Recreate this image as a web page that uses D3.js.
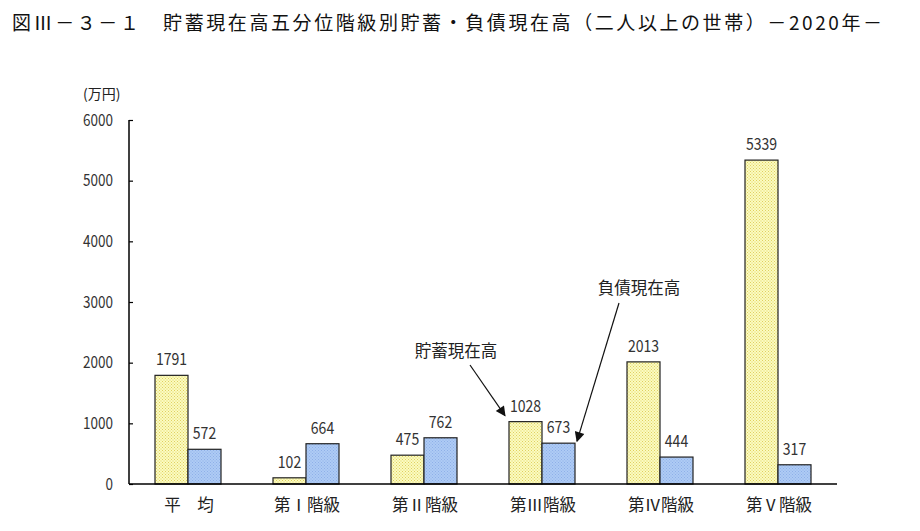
<!DOCTYPE html>
<html><head><meta charset="utf-8">
<script src="https://cdn.jsdelivr.net/npm/d3@7"></script>
<style>body{margin:0;background:#fff}svg{display:block}text{font-family:"Noto Sans CJK JP","Noto Sans",sans-serif}</style>
</head><body>
<svg id="c" width="920" height="531"></svg>
<script>
const categories = ["平　均","第Ⅰ階級","第Ⅱ階級","第Ⅲ階級","第Ⅳ階級","第Ⅴ階級"];
const savings = [1791,102,475,1028,2013,5339];
const debts = [572,664,762,673,444,317];
const yTicks = [0,1000,2000,3000,4000,5000,6000];
const seriesNames = ["貯蓄現在高","負債現在高"];
const title = "図Ⅲ－３－１　貯蓄現在高五分位階級別貯蓄・負債現在高（二人以上の世帯）－2020年－";
const unitLabel = "(万円)";

const numFont = "'Liberation Sans','DejaVu Sans',sans-serif";
const svg = d3.select("#c");
const defs = svg.append("defs");
function pat(id, bg, dot){
  const p = defs.append("pattern").attr("id",id).attr("width",3).attr("height",3).attr("patternUnits","userSpaceOnUse");
  p.append("rect").attr("width",3).attr("height",3).attr("fill",bg);
  p.append("rect").attr("x",0).attr("y",0).attr("width",1).attr("height",1).attr("fill",dot);
  p.append("rect").attr("x",1.5).attr("y",1.5).attr("width",1).attr("height",1).attr("fill",dot);
}
pat("py","#fbfbc0","#e0d060");
pat("pb","#aecbf5","#8fb0e8");
const mk = defs.append("marker").attr("id","ah").attr("viewBox","0 0 10 10").attr("refX",9).attr("refY",5)
  .attr("markerWidth",12).attr("markerHeight",10).attr("markerUnits","userSpaceOnUse").attr("orient","auto");
mk.append("path").attr("d","M0,0L10,5L0,10z").attr("fill","#111");

const x0 = 129, x1 = 837, yB = 484, yT = 120;
const x = d3.scaleBand().domain(categories).range([x0,x1]).paddingInner(0).paddingOuter(0);
const y = d3.scaleLinear().domain([0,6000]).range([yB,yT]);
const bw = 33;

svg.append("text").attr("x",12).attr("y",30).attr("font-size",19).attr("fill","#111")
  .attr("textLength",870).attr("lengthAdjust","spacing").text(title);
svg.append("text").attr("x",83).attr("y",99).attr("font-size",14).attr("fill","#222").text(unitLabel);

const yAxis = d3.axisLeft(y).tickValues(yTicks).tickSize(-4).tickPadding(16).tickFormat(d3.format("d"));
const ga = svg.append("g").attr("transform",`translate(${x0},0)`).call(yAxis);
ga.select(".domain").attr("stroke","#000").attr("stroke-width",1.5).attr("d",`M0,${yT}V${yB}`);
ga.selectAll(".tick line").attr("stroke","#000").attr("stroke-width",1.2);
ga.selectAll(".tick text").attr("font-size",16.5).attr("fill","#333").attr("font-family",numFont)
  .attr("textLength",d=>String(d).length*7.5).attr("lengthAdjust","spacingAndGlyphs");

const g = svg.append("g");
categories.forEach((c,i)=>{
  const cx = x(c) + x.bandwidth()/2;
  [[savings[i],"url(#py)",cx-bw],[debts[i],"url(#pb)",cx]].forEach(([v,f,bx])=>{
    g.append("rect").attr("x",bx).attr("y",y(v)).attr("width",bw).attr("height",yB-y(v))
      .attr("fill",f).attr("stroke","#222").attr("stroke-width",1.2);
    g.append("text").attr("x",bx+bw/2).attr("y",y(v)-10).attr("text-anchor","middle")
      .attr("font-size",17).attr("fill","#333").attr("font-family",numFont)
      .attr("textLength",String(v).length*7.8).attr("lengthAdjust","spacingAndGlyphs").text(v);
  });
  svg.append("text").attr("x",cx+1).attr("y",511).attr("text-anchor","middle").attr("font-size",16.5).attr("fill","#222").text(c);
});
svg.append("line").attr("x1",x0).attr("x2",x1).attr("y1",yB).attr("y2",yB).attr("stroke","#000").attr("stroke-width",1.5);

// annotations
const cIII = x(categories[3]) + x.bandwidth()/2;
svg.append("text").attr("x",456).attr("y",357).attr("text-anchor","middle").attr("font-size",16.5).attr("fill","#222").text(seriesNames[0]);
svg.append("line").attr("x1",470).attr("y1",365).attr("x2",cIII-37).attr("y2",y(savings[3])-6)
  .attr("stroke","#111").attr("stroke-width",1.2).attr("marker-end","url(#ah)");
svg.append("text").attr("x",639).attr("y",294).attr("text-anchor","middle").attr("font-size",16.5).attr("fill","#222").text(seriesNames[1]);
svg.append("line").attr("x1",619).attr("y1",303).attr("x2",cIII+35).attr("y2",y(debts[3])-2)
  .attr("stroke","#111").attr("stroke-width",1.2).attr("marker-end","url(#ah)");
</script>
</body></html>
